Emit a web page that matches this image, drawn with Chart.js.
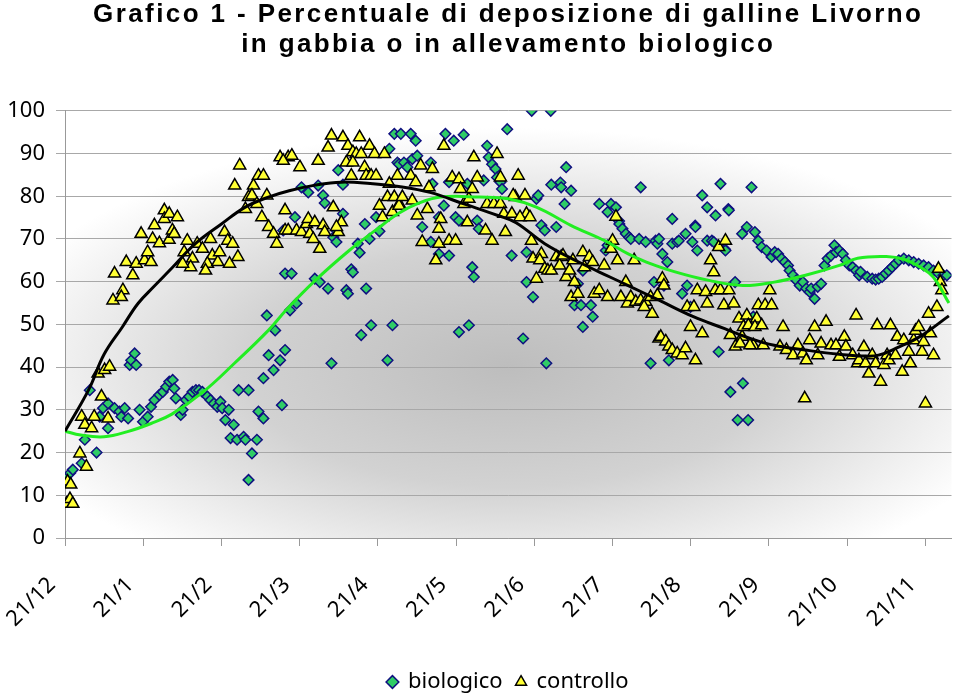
<!DOCTYPE html>
<html>
<head>
<meta charset="utf-8">
<script src="https://cdn.jsdelivr.net/npm/chart.js@4"></script>
<style>
  body { margin: 0; background: #fff; }
  #wrap { width: 960px; height: 696px; }
</style>
</head>
<body>
<div id="wrap"><canvas id="myChart" width="960" height="696"></canvas></div>
<script>
// x = days after 21/12, ticks every 30 days
const tickLabels = ['21/12', '21/1', '21/2', '21/3', '21/4', '21/5', '21/6', '21/7', '21/8', '21/9', '21/10', '21/11']

// biologico (diamonds)
const bioDay = [0, 2, 3, 6.4, 7.6, 9.5, 12.1, 13.3, 14.6, 16.5, 16.5, 19, 20.9, 21.6, 22.9, 24.2, 24.8, 25.4, 26.7, 27.3,
  28.6, 29.9, 31.7, 33, 34.3, 36.2, 37.5, 38.8, 40, 41.3, 41.9, 42.5, 44.4, 45.1, 46.4, 47.6, 48.9, 50.2, 51.4, 52.7,
  54.6, 55.8, 57.1, 58.4, 59.6, 60.3, 61.5, 62.8, 63.5, 64.7, 66, 66.6, 68.5, 69.2, 70.4, 70.4, 71.7, 73.6, 74.2, 76.1,
  76.1, 77.4, 78.1, 80, 80.6, 82.5, 83.2, 83.7, 84.4, 84.4, 86.3, 86.9, 88.2, 88.8, 90.7, 93.3, 95.8, 97.1, 97.7, 99,
  99.6, 100.9, 102.2, 102.9, 104.1, 104.1, 104.8, 106.6, 106.6, 107.9, 108.5, 109.8, 110.4, 112.3, 113, 113.6, 115, 115.5, 116.8, 117.4,
  119.3, 120.6, 123.7, 124.4, 125.6, 126.3, 127.5, 128.1, 128.8, 130, 131.3, 132.6, 133.2, 134.5, 135.1, 137, 140.3, 140.3, 140.9, 143.4,
  143.4, 145.3, 145.9, 147.3, 147.3, 149.1, 149.8, 151.1, 151.1, 152.9, 154.3, 154.9, 156.2, 156.8, 158.1, 158.7, 160.6, 161.9, 162.5, 163.8,
  165.1, 165.7, 167, 167.6, 169.6, 171.3, 175.7, 177, 177, 179, 179.5, 180.8, 181.5, 182.7, 184, 184.6, 186.3, 186.5, 188.4, 190,
  190.3, 191.6, 192.2, 194.1, 195.4, 196.7, 197.9, 198.6, 198.6, 201.7, 202.4, 204.9, 207.4, 208.1, 208.1, 209.4, 211.3, 212.5, 212.6, 213.8,
  215.1, 216.4, 217, 220.2, 220.8, 222.7, 224.6, 225.9, 226.5, 227.2, 227.8, 229.1, 229.7, 231, 231.6, 232.9, 232.9, 234.8, 235.4, 236.7,
  238, 238.6, 239.9, 240.6, 241.7, 241.8, 242.5, 244.4, 246.3, 246.3, 248.1, 248.8, 249.5, 250.7, 251.4, 253.1, 253.3, 254.4, 254.6, 255.2,
  257, 258, 259.7, 260, 261.5, 262, 263.3, 264, 264.6, 265.9, 267.2, 269.1, 271, 272.2, 273.5, 274.8, 276.1, 277.3, 277.9, 279.2,
  280.5, 281.8, 283, 284.3, 285.6, 286.2, 287.5, 288.7, 290, 291.3, 292.5, 293.8, 295.1, 295.7, 297, 298.3, 299.5, 300.8, 302.1, 303.4,
  304.6, 305.1, 307.7, 309.6, 310.9, 312.1, 313.4, 314.7, 315.9, 317.2, 318.5, 319.8, 321.7, 323.6, 325.5, 327.4, 329.3, 331.2, 333.1, 335,
  336.9, 338.2]
const bioVal = [14.0, 15.2, 16.0, 17.5, 23.0, 34.6, 20.0, 28.4, 30.4, 25.7, 31.5, 30.4, 29.6, 28.4, 30.4, 28.0, 40.5, 41.6, 43.2, 40.5,
  30.0, 27.2, 28.4, 30.7, 32.3, 33.5, 34.2, 35.4, 36.6, 37.0, 35.0, 32.7, 28.8, 30.0, 32.3, 33.1, 34.2, 34.6, 34.6, 34.2,
  33.1, 32.3, 31.5, 30.7, 31.9, 30.4, 27.6, 30.0, 23.4, 26.5, 23.0, 34.6, 23.7, 23.0, 13.6, 34.6, 19.8, 23.0, 29.6, 28.0,
  37.4, 52.1, 42.8, 39.3, 48.6, 41.6, 31.1, 72.0, 44.0, 61.9, 53.3, 61.9, 75.1, 54.9, 82.1, 80.9, 60.7, 82.5, 59.9, 80.2,
  78.4, 58.4, 40.9, 70.4, 72.0, 69.3, 86.1, 82.7, 75.9, 58.0, 57.2, 62.9, 62.2, 68.9, 66.8, 47.5, 73.5, 58.4, 70.0, 49.8,
  75.1, 71.8, 41.6, 91.1, 49.8, 94.6, 87.9, 87.5, 94.6, 87.9, 86.8, 94.6, 88.7, 93.0, 89.5, 72.8, 87.9, 69.3, 82.9, 75.1,
  66.5, 77.8, 94.6, 83.3, 66.1, 93.0, 75.1, 74.3, 48.2, 94.4, 82.9, 49.8, 63.4, 61.1, 74.3, 72.4, 83.7, 91.8, 89.1, 87.5,
  86.4, 84.4, 83.3, 81.7, 95.7, 66.1, 46.7, 66.9, 59.9, 100, 56.4, 79.4, 80.2, 73.2, 72.0, 40.9, 100, 82.7, 72.8, 83.2,
  82.1, 78.2, 86.8, 81.3, 54.5, 59.5, 54.5, 62.6, 49.4, 54.5, 51.8, 78.2, 67.3, 76.3, 68.5, 78.2, 77.4, 74.2, 73.5, 72.4,
  71.2, 70.4, 70.0, 70.0, 82.1, 69.3, 40.9, 59.9, 69.6, 68.9, 70.0, 66.5, 59.1, 64.6, 41.6, 68.9, 74.7, 69.3, 69.6, 57.2,
  71.2, 59.1, 54.1, 69.3, 73.1, 72.8, 67.3, 80.2, 69.6, 77.4, 69.6, 69.3, 75.5, 43.6, 82.9, 67.6, 67.3, 77.0, 76.7, 34.2,
  59.9, 27.6, 71.2, 36.2, 72.8, 27.6, 82.1, 51.8, 71.6, 69.6, 68.1, 67.3, 65.8, 66.9, 66.5, 65.4, 64.6, 63.8, 62.6, 61.5,
  60.3, 59.1, 59.9, 58.4, 57.6, 58.4, 56.0, 58.8, 59.5, 63.8, 65.4, 66.1, 68.5, 66.9, 67.3, 66.5, 65.0, 63.8, 63.4, 62.6,
  61.5, 62.3, 61.1, 60.7, 60.5, 60.7, 61.1, 61.9, 62.6, 63.4, 64.2, 65.0, 65.4, 65.0, 64.6, 64.2, 63.8, 63.4, 62.6, 61.9,
  61.5, 61.5]

// controllo (triangles)
const ctrlDay = [0.6, 1.9, 3, 1, 2.2, 5.7, 8.2, 6.4, 7.6, 10.2, 11.2, 14, 16.5, 12.7, 15.2, 17.1, 18.4, 22.2, 21.6, 19,
  23.5, 26, 27.3, 30.5, 33, 31.7, 29.2, 33.6, 36.2, 39.9, 34.3, 38.1, 38.1, 41.2, 40, 43.1, 41.9, 45.7, 48.9, 48.2,
  45.1, 46.9, 50.7, 52.7, 55.8, 56.5, 54.6, 53.9, 58.6, 59.3, 63.1, 61.2, 62.4, 64.3, 66.3, 67, 65.1, 72.3, 74.2, 76.1,
  70.4, 71.7, 69.2, 73.6, 75.5, 77.4, 78.1, 80, 81.2, 84.4, 84.4, 82.5, 85.6, 87, 83.7, 90.1, 97.1, 102.2, 106.6, 113,
  100.9, 108.5, 110.4, 111.7, 113.6, 107.9, 110.4, 114.9, 116.8, 118.7, 122.5, 109.8, 115.5, 117.4, 119.3, 127.5, 124.4, 120.6, 123.7, 126.3,
  121.8, 125.6, 128.2, 85.6, 88.8, 90.7, 92.6, 93.3, 95.8, 93.9, 95.2, 97.7, 99, 99.6, 102.9, 104.8, 106, 104.1, 128.1, 129.4,
  132.6, 134.5, 133.2, 136.4, 140.9, 139.6, 135.1, 139, 144.1, 143.4, 137, 143.4, 142.2, 147.3, 149.8, 145.3, 148.5, 151.1, 151.7, 154.3,
  153, 154.9, 156.8, 158.1, 156.2, 161.3, 163.8, 165.7, 167, 161.9, 164.5, 167, 168.9, 168.3, 171.4, 172.7, 173.8, 171.9, 176.4, 177,
  174.5, 178.3, 178.9, 179.5, 182.7, 182.1, 180.8, 184, 185.2, 186.5, 188.4, 190.3, 189.7, 191, 192.2, 193.5, 194.8, 195.4, 194.1, 196.7,
  198.6, 199.2, 201.1, 202.4, 203, 204.9, 206.8, 208.1, 210, 209.4, 211.3, 211.9, 213.2, 215.1, 215.7, 218.3, 217, 218.9, 220.8, 222.7,
  224.6, 222.1, 225.2, 227.2, 229.1, 229.7, 227.8, 228.5, 230.4, 231.6, 232.9, 234.8, 236.7, 238, 241.8, 239.9, 244.4, 238.6, 241.2, 242.5,
  245.7, 246.3, 247.6, 248.8, 249.4, 251.4, 254.6, 252.7, 256.5, 250.7, 253.3, 258.5, 255.2, 257.1, 259.7, 270.3, 265.9, 268.5, 271, 261.5,
  265.3, 260.2, 262.1, 264.6, 267.2, 264, 267.8, 258.9, 262.7, 275.4, 274.2, 276.7, 279.2, 281.1, 283, 284.3, 283.7, 285.6, 287.5, 288.7,
  290, 291.9, 293.8, 295.7, 297, 298.9, 299.5, 302.1, 303.4, 304, 306.4, 304.5, 307, 308.3, 309.6, 310.9, 311.5, 312.8, 314.1, 315.3,
  316, 316.6, 318.5, 319.2, 321.1, 321.7, 323.6, 324.2, 325.5, 326.2, 327.4, 328.7, 329.3, 330, 331.2, 331.9, 333.1, 334.4, 335, 335.7,
  336.3]
const ctrlVal = [8.0, 9.1, 8.0, 13.2, 12.5, 19.8, 16.7, 28.4, 26.5, 25.7, 28.4, 33.1, 28.0, 38.5, 39.3, 40.1, 55.6, 58.0, 56.4, 61.9,
  64.6, 61.5, 64.2, 65.0, 64.6, 66.9, 71.2, 70.0, 69.0, 69.8, 73.2, 76.7, 74.7, 72.0, 75.9, 75.1, 71.2, 66.9, 65.4, 63.4,
  64.2, 69.6, 68.9, 67.7, 70.0, 66.1, 64.2, 62.6, 64.6, 66.9, 64.2, 71.6, 69.6, 68.9, 65.8, 87.2, 82.5, 82.5, 84.8, 84.8,
  79.8, 80.2, 77.0, 78.2, 75.1, 80.2, 72.8, 71.2, 68.9, 76.7, 72.0, 89.1, 89.1, 89.5, 88.3, 86.8, 88.3, 94.2, 93.8, 93.8,
  91.4, 91.8, 90.3, 89.9, 89.9, 87.9, 87.9, 86.8, 91.8, 89.9, 89.9, 84.8, 84.8, 84.8, 84.8, 84.8, 82.9, 77.8, 79.8, 79.8,
  75.1, 76.3, 78.2, 72.0, 72.0, 71.6, 73.5, 74.7, 73.9, 71.2, 70.0, 67.7, 73.2, 71.6, 77.4, 71.6, 73.9, 72.8, 77.8, 79.8,
  84.8, 83.3, 79.0, 87.2, 86.4, 82.1, 75.5, 77.0, 74.7, 72.4, 69.3, 68.9, 65.0, 69.6, 69.6, 91.8, 84.4, 84.0, 81.7, 73.9,
  78.2, 79.4, 89.1, 84.4, 81.7, 72.0, 69.6, 89.9, 84.4, 78.2, 78.2, 78.2, 71.6, 75.9, 75.9, 79.8, 84.8, 80.2, 80.2, 75.9,
  75.1, 75.1, 69.6, 65.4, 66.5, 65.0, 60.7, 63.0, 62.6, 62.6, 65.8, 65.8, 63.8, 66.1, 61.1, 62.6, 65.0, 59.9, 56.4, 57.2,
  66.9, 63.4, 65.8, 64.6, 57.2, 58.0, 63.8, 56.4, 69.6, 67.7, 75.2, 65.0, 56.4, 59.9, 54.9, 65.0, 56.4, 55.3, 55.6, 55.3,
  56.4, 54.1, 52.5, 56.8, 60.7, 59.1, 46.7, 47.1, 46.0, 44.8, 44.0, 43.2, 42.8, 44.4, 41.6, 49.4, 47.9, 54.1, 54.1, 58.0,
  57.6, 54.9, 65.0, 62.2, 58.0, 58.0, 58.0, 54.5, 54.9, 68.1, 69.6, 51.4, 47.5, 44.8, 47.1, 58.0, 54.5, 54.5, 54.5, 52.1,
  51.4, 49.4, 49.8, 49.4, 49.8, 45.1, 45.1, 45.5, 45.1, 49.4, 44.8, 44.0, 42.8, 45.1, 43.2, 41.6, 32.7, 46.3, 49.4, 42.8,
  45.5, 50.6, 45.1, 45.1, 42.4, 47.1, 44.8, 42.8, 52.1, 40.9, 44.7, 41.6, 40.9, 38.5, 42.8, 40.9, 49.8, 36.6, 40.5, 42.8,
  41.6, 49.8, 42.8, 47.1, 38.9, 46.3, 43.6, 40.9, 46.3, 48.5, 49.4, 43.6, 45.9, 31.5, 52.5, 47.9, 42.8, 54.1, 63.0, 59.9,
  58.0]

// trend lines
const ctrlTrendDay = [0, 9, 15, 22, 28, 34, 41, 50, 60, 69, 78, 86, 96, 106, 117, 128, 140, 153, 166, 173,
  184, 197, 209, 216, 228, 241, 253, 261, 272, 284, 297, 306, 312, 319, 328, 339]
const ctrlTrendVal = [25.0, 34.6, 43.0, 49.4, 54.9, 58.8, 63.2, 68.9, 73.5, 77.4, 79.8, 81.3, 82.6, 83.3, 83.0, 82.3, 80.9, 78.2, 75.5, 73.8,
  68.9, 64.6, 61.1, 59.1, 55.6, 51.8, 49.0, 47.1, 45.1, 44.0, 43.0, 42.6, 42.8, 44.5, 47.2, 52.0]
const bioTrendDay = [0, 6, 15, 24, 33, 41, 53, 65, 78, 85, 96, 109, 119, 128, 135, 144, 159, 170, 181,
  194, 207, 216, 223, 234, 247, 260, 272, 284, 297, 304, 315, 322, 328, 333, 339]
const bioTrendVal = [25.0, 24.1, 23.7, 24.9, 26.8, 29.0, 34.2, 40.9, 48.6, 53.5, 60.3, 67.3, 72.0, 76.0, 78.2, 79.8, 79.8, 79.4, 77.4,
  73.2, 69.6, 66.5, 64.6, 62.3, 60.3, 59.1, 59.9, 61.5, 63.8, 65.5, 65.9, 65.2, 63.4, 61.1, 55.0]

const pts = (xs, ys) => xs.map((x, i) => ({ x: x, y: ys[i] }))

const tickFont = { family: '"Comic Sans MS", "Noto Sans", sans-serif', size: 22 }

// grey gradient behind the plot
const bgPlugin = {
  id: 'bg',
  beforeDraw(chart) {
    const { ctx, chartArea: a } = chart
    const cx = (a.left + a.right) / 2
    const cy = a.top + (a.bottom - a.top) * 0.6
    const sy = 0.45
    const r = (a.right - a.left) * 0.6
    ctx.save()
    ctx.translate(cx, cy)
    ctx.scale(1, sy)
    const g = ctx.createRadialGradient(0, 0, 0, 0, 0, r)
    g.addColorStop(0, '#bdbdbd')
    g.addColorStop(0.5, '#d2d2d2')
    g.addColorStop(1, '#ffffff')
    ctx.fillStyle = g
    ctx.fillRect(a.left - cx, (a.top - cy) / sy, a.right - a.left, (a.bottom - a.top) / sy)
    ctx.restore()
  }
}

// title letters are spaced out in the original
const titleSpacing = {
  id: 'titleSpacing',
  beforeDraw(chart) {
    const tb = chart.titleBlock
    if (tb && !tb._spaced) {
      const orig = tb.draw
      tb.draw = function () {
        const c = this.ctx
        c.save()
        c.letterSpacing = '2.4px'
        orig.apply(this, arguments)
        c.restore()
      }
      tb._spaced = true
    }
  }
}

const ctx = document.getElementById('myChart')

new Chart(ctx, {
  type: 'scatter',
  data: {
    datasets: [{
      label: 'trend controllo',
      type: 'line',
      data: pts(ctrlTrendDay, ctrlTrendVal),
      borderColor: '#000000',
      borderWidth: 3,
      pointRadius: 0,
      tension: 0.4,
      order: 0
    }, {
      label: 'trend biologico',
      type: 'line',
      data: pts(bioTrendDay, bioTrendVal),
      borderColor: '#22ee22',
      borderWidth: 3,
      pointRadius: 0,
      tension: 0.4,
      order: 0
    }, {
      label: 'biologico',
      data: pts(bioDay, bioVal),
      pointStyle: 'rectRot',
      pointRadius: 5.3,
      backgroundColor: '#2fcc66',
      borderColor: '#101080',
      borderWidth: 1.5,
      order: 2
    }, {
      label: 'controllo',
      data: pts(ctrlDay, ctrlVal),
      pointStyle: 'triangle',
      pointRadius: 7,
      backgroundColor: '#ffff33',
      borderColor: '#000000',
      borderWidth: 1.5,
      order: 1
    }]
  },
  options: {
    responsive: false,
    animation: false,
    devicePixelRatio: 1,
    layout: { padding: { left: 0, right: 5, top: 0, bottom: -7 } },
    plugins: {
      title: {
        display: true,
        fullSize: false,
        text: ['Grafico 1 - Percentuale di deposizione di galline Livorno', 'in gabbia o in allevamento biologico'],
        color: '#000',
        font: { family: '"Liberation Sans", Arial, sans-serif', size: 26, weight: 'bold', lineHeight: 1.15 },
        padding: { top: 0, bottom: 51 }
      },
      legend: {
        position: 'bottom',
        fullSize: false,
        labels: {
          filter: (item) => item.text.indexOf('trend') < 0,
          sort: (a, b) => a.datasetIndex - b.datasetIndex,
          usePointStyle: true,
          boxWidth: 9,
          boxHeight: 9,
          color: '#000',
          font: tickFont,
          padding: 14
        }
      },
      tooltip: { enabled: false }
    },
    scales: {
      x: {
        type: 'linear',
        min: 0,
        max: 340,
        afterBuildTicks: (scale) => { scale.ticks = tickLabels.map((t, i) => ({ value: i * 30 })) },
        afterFit: (scale) => {
          scale.height = 119
          scale.paddingLeft = 0
          scale.paddingRight = 0
        },
        ticks: {
          callback: (v) => tickLabels[v / 30],
          minRotation: 45,
          maxRotation: 45,
          color: '#000',
          font: tickFont,
          padding: 26,
          labelOffset: -13
        },
        grid: { drawOnChartArea: false, tickLength: 8, color: '#999' },
        border: { color: '#999' }
      },
      y: {
        min: 0,
        max: 100,
        afterFit: (scale) => { scale.width = 65 },
        ticks: { stepSize: 10, color: '#000', font: tickFont, padding: 11 },
        grid: { color: '#a8a8a8', tickLength: 9 },
        border: { color: '#999' }
      }
    }
  },
  plugins: [bgPlugin, titleSpacing]
})
</script>
</body>
</html>
